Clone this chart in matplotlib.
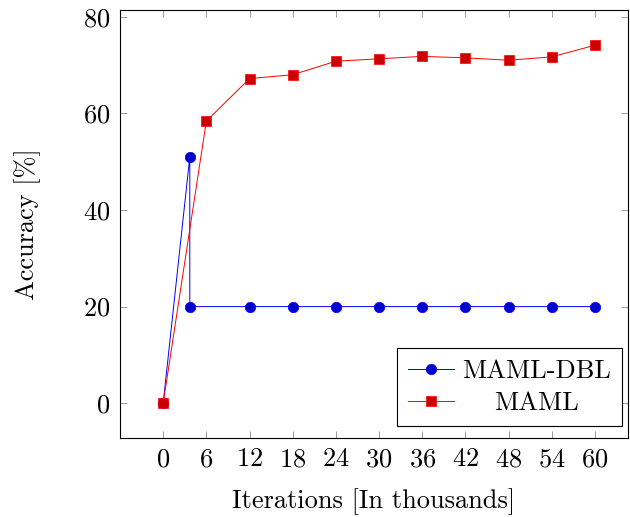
import matplotlib
matplotlib.use("Agg")
import matplotlib.pyplot as plt
import matplotlib.transforms as mtransforms

plt.rcParams['font.family'] = 'serif'
plt.rcParams['font.serif'] = ['cmr10', 'DejaVu Serif']
plt.rcParams['mathtext.fontset'] = 'cm'
plt.rcParams['axes.formatter.use_mathtext'] = True

# data
dbl_iters = [0, 3.7, 3.7, 12, 18, 24, 30, 36, 42, 48, 54, 60]
dbl_acc = [0, 51.0, 20, 20, 20, 20, 20, 20, 20, 20, 20, 20]
maml_iters = [0, 6, 12, 18, 24, 30, 36, 42, 48, 54, 60]
maml_acc = [0, 58.4, 67.2, 68.0, 70.8, 71.3, 71.8, 71.5, 71.0, 71.7, 74.1]
xticks = [0, 6, 12, 18, 24, 30, 36, 42, 48, 54, 60]
yticks = [0, 20, 40, 60, 80]

fs = 19

fig = plt.figure(figsize=(6.3, 5.17), dpi=100)
ax = fig.add_axes([120 / 630, 79 / 517, 508 / 630, 428 / 517])

ax.plot(dbl_iters, dbl_acc, color='#0000ff', lw=0.7, marker='o', ms=7.5,
        mfc='#0000cc', mec='#0000ff', mew=0.5, label='MAML-DBL')
ax.plot(maml_iters, maml_acc, color='#ff0000', lw=0.7, marker='s', ms=7.5,
        mfc='#cc0000', mec='#ff0000', mew=0.5, label='MAML')

ax.set_xlim(-6, 64.6)
ax.set_ylim(-7.2, 81.4)
ax.set_xticks(xticks)
ax.set_yticks(yticks)
ax.tick_params(direction='in', length=4.7, width=0.6, color='#8c8c8c',
               top=True, right=True, labelsize=fs, pad=7)
for s in ax.spines.values():
    s.set_linewidth(0.8)

ax.set_xlabel('Iterations [In thousands]', fontsize=fs, labelpad=12)
ax.set_ylabel('Accuracy [%]', fontsize=fs, labelpad=30)

leg = ax.legend(loc='lower right', bbox_to_anchor=(0.988, 0.028), borderaxespad=0,
                fontsize=fs, fancybox=False, framealpha=1, edgecolor='black',
                handlelength=1.75, handletextpad=0.3, labelspacing=0.3,
                borderpad=0.42)
leg.get_frame().set_linewidth(0.8)

# center the shorter legend label like the reference
fig.canvas.draw()
r = fig.canvas.get_renderer()
t0, t1 = leg.get_texts()
dx = (t0.get_window_extent(r).width - t1.get_window_extent(r).width) / 2
t1.set_transform(t1.get_transform() + mtransforms.Affine2D().translate(dx, 0))

fig.savefig('out.png', dpi=100)
